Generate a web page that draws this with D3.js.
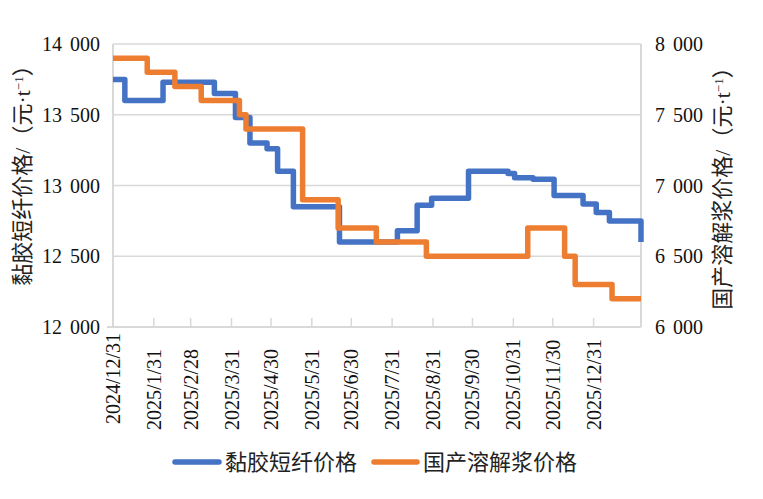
<!DOCTYPE html>
<html><head><meta charset="utf-8">
<script src="https://cdn.jsdelivr.net/npm/d3@7"></script>
<style>
html,body{margin:0;padding:0;background:#fff;}
svg{display:block;}
</style></head>
<body>
<svg id="chart" width="763" height="499"></svg>
<script>
// ---- data ----
const seriesNames = ["黏胶短纤价格", "国产溶解浆价格"];
const fiberDates = ["2024-12-31","2025-01-09","2025-02-07","2025-03-18","2025-04-03","2025-04-14","2025-04-27","2025-05-05","2025-05-17","2025-06-21","2025-08-04","2025-08-19","2025-08-30","2025-09-27","2025-10-27","2025-11-01","2025-11-15","2025-12-01","2025-12-23","2026-01-02","2026-01-12","2026-02-05"];
const fiberValues = [13750,13600,13730,13650,13480,13300,13260,13100,12850,12600,12680,12860,12910,13100,13085,13055,13045,12930,12870,12810,12750,12600];
const pulpDates = ["2024-12-31","2025-01-26","2025-02-16","2025-03-08","2025-04-06","2025-04-11","2025-05-24","2025-06-20","2025-07-19","2025-08-26","2025-11-11","2025-12-09","2025-12-17","2026-01-14","2026-02-05"];
const pulpValues = [7900,7800,7700,7600,7500,7400,6900,6700,6600,6500,6700,6500,6300,6200,6200];
const xTickLabels = ["2024/12/31","2025/1/31","2025/2/28","2025/3/31","2025/4/30","2025/5/31","2025/6/30","2025/7/31","2025/8/31","2025/9/30","2025/10/31","2025/11/30","2025/12/31"];
const leftTicks = [12000,12500,13000,13500,14000];
const rightTicks = [6000,6500,7000,7500,8000];
const xDomain = ["2024-12-31","2026-02-05"];

// ---- layout ----
const L = 113, R = 641, T = 44, B = 327;
const blue = "#4472C4", orange = "#ED7D31", grid = "#d9d9d9";
const numFont = "'Liberation Serif','Times New Roman',serif";
const cjkFont = "'Liberation Serif','Noto Sans CJK SC',serif";

const parse = d3.timeParse("%Y-%m-%d");
const parseTick = d3.timeParse("%Y/%m/%d");
const x = d3.scaleTime().domain(xDomain.map(parse)).range([L, R]);
const yL = d3.scaleLinear().domain([12000, 14000]).range([B, T]);
const yR = d3.scaleLinear().domain([6000, 8000]).range([B, T]);
const fmt = v => d3.format(",")(v).replace(/,/g, " ");

const svg = d3.select("#chart");

// gridlines
svg.append("g").selectAll("line").data(leftTicks.slice(1)).join("line")
  .attr("x1", L).attr("x2", R).attr("y1", d => yL(d)).attr("y2", d => yL(d))
  .attr("stroke", grid).attr("stroke-width", 1.5);

// frame axes lines
svg.append("line").attr("x1", L).attr("x2", L).attr("y1", T).attr("y2", B).attr("stroke", grid).attr("stroke-width", 2);
svg.append("line").attr("x1", R).attr("x2", R).attr("y1", T).attr("y2", B).attr("stroke", grid).attr("stroke-width", 2);
svg.append("line").attr("x1", L - 6).attr("x2", R).attr("y1", B).attr("y2", B).attr("stroke", grid).attr("stroke-width", 2);

// x ticks (inside)
const tickDates = xTickLabels.map(parseTick);
svg.append("g").selectAll("line").data(tickDates).join("line")
  .attr("x1", d => x(d)).attr("x2", d => x(d)).attr("y1", B - 9).attr("y2", B)
  .attr("stroke", grid).attr("stroke-width", 1.5);

// x labels
svg.append("g").selectAll("text").data(xTickLabels).join("text")
  .attr("transform", (d, i) => `translate(${x(parseTick(d))},${i === 0 ? 424 : 430}) rotate(-90)`)
  .attr("text-anchor", "start").attr("dy", "0.35em")
  .attr("font-family", numFont).attr("font-size", 20).attr("fill", "#111")
  .text(d => d);

// left y labels
svg.append("g").selectAll("text").data(leftTicks).join("text")
  .attr("x", 100).attr("y", d => yL(d)).attr("dy", "0.35em")
  .attr("text-anchor", "end").attr("font-family", numFont).attr("font-size", 20)
  .style("word-spacing", "3px").attr("fill", "#111").text(fmt);

// right y labels
svg.append("g").selectAll("text").data(rightTicks).join("text")
  .attr("x", 655).attr("y", d => yR(d)).attr("dy", "0.35em")
  .attr("text-anchor", "start").attr("font-family", numFont).attr("font-size", 20)
  .style("word-spacing", "3px").attr("fill", "#111").text(fmt);

// axis titles
function title(cx, cy, name) {
  const t = svg.append("text")
    .attr("transform", `translate(${cx},${cy}) rotate(-90)`)
    .attr("text-anchor", "middle").attr("dy", "0.35em")
    .attr("font-family", cjkFont).attr("font-size", 22).attr("fill", "#222");
  t.append("tspan").text(name + "/（元·t");
  t.append("tspan").attr("font-size", 13).attr("baseline-shift", "super").text("−1");
  t.append("tspan").text("）");
}
title(22, 170, seriesNames[0]);
title(722, 183, seriesNames[1]);

// lines
const fiber = fiberDates.map((d, i) => ({ d: parse(d), v: fiberValues[i] }));
const pulp = pulpDates.map((d, i) => ({ d: parse(d), v: pulpValues[i] }));
const lineL = d3.line().x(p => x(p.d)).y(p => yL(p.v)).curve(d3.curveStepAfter);
const lineR = d3.line().x(p => x(p.d)).y(p => yR(p.v)).curve(d3.curveStepAfter);
svg.append("path").datum(fiber).attr("d", lineL).attr("fill", "none")
  .attr("stroke", blue).attr("stroke-width", 5.5).attr("stroke-linejoin", "round");
svg.append("path").datum(pulp).attr("d", lineR).attr("fill", "none")
  .attr("stroke", orange).attr("stroke-width", 5.5).attr("stroke-linejoin", "round");

// legend
const legend = [
  { name: seriesNames[0], color: blue, x1: 175, x2: 219, tx: 225 },
  { name: seriesNames[1], color: orange, x1: 374, x2: 417, tx: 423 }
];
const lg = svg.append("g").selectAll("g").data(legend).join("g");
lg.append("line").attr("x1", d => d.x1).attr("x2", d => d.x2).attr("y1", 462).attr("y2", 462)
  .attr("stroke", d => d.color).attr("stroke-width", 5.5).attr("stroke-linecap", "round");
lg.append("text").attr("x", d => d.tx).attr("y", 462).attr("dy", "0.36em")
  .attr("font-family", cjkFont).attr("font-size", 22).attr("fill", "#222").text(d => d.name);
</script>
</body></html>
